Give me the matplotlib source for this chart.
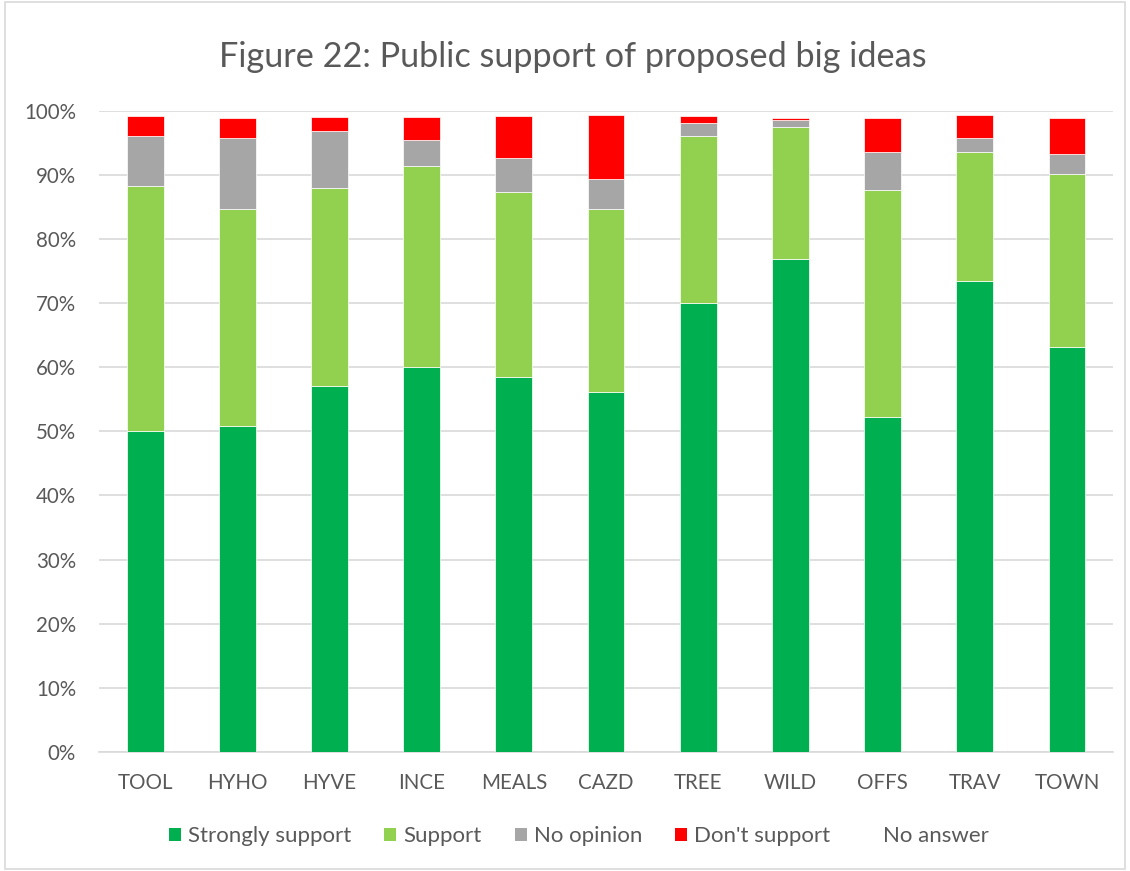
import numpy as np
import matplotlib
matplotlib.use("Agg")
from matplotlib import pyplot as plt
from matplotlib.patches import Patch, Rectangle
from matplotlib.ticker import PercentFormatter

plt.rcParams['font.family'] = ['Lato', 'DejaVu Sans']

ideas = ['TOOL', 'HYHO', 'HYVE', 'INCE', 'MEALS', 'CAZD', 'TREE', 'WILD', 'OFFS', 'TRAV', 'TOWN']

# share of responses per idea, in percent
strongly_support = [50.0, 50.8, 57.0, 60.0, 58.4, 56.2, 70.0, 76.8, 52.2, 73.5, 63.1]
support          = [38.3, 33.9, 31.0, 31.4, 28.9, 28.4, 26.1, 20.6, 35.4, 20.0, 27.0]
no_opinion       = [7.7, 11.1, 8.8, 4.1, 5.4, 4.7, 2.0, 1.1, 6.0, 2.2, 3.1]
dont_support     = [3.2, 3.1, 2.2, 3.5, 6.4, 10.0, 1.0, 0.4, 5.3, 3.6, 5.7]
no_answer        = [0.8, 1.1, 1.0, 1.0, 0.9, 0.7, 0.9, 1.1, 1.1, 0.7, 1.1]

series = [
    ('Strongly support', strongly_support, '#00B050'),
    ('Support', support, '#92D050'),
    ('No opinion', no_opinion, '#A6A6A6'),
    ("Don't support", dont_support, '#FF0000'),
    ('No answer', no_answer, 'none'),
]

txt = '#595959'

fig = plt.figure(figsize=(11.3, 8.71), dpi=100)
ax = fig.add_axes([0.0876, 0.1366, 0.8974, 0.7363])

x = np.arange(len(ideas))
bottom = np.zeros(len(ideas))
handles = []
for name, vals, col in series:
    vals = np.array(vals)
    ec = 'none' if col == 'none' else 'white'
    ax.bar(x, vals, 0.4, bottom=bottom, color=col, edgecolor=ec, linewidth=0.5, zorder=3)
    bottom += vals
    handles.append(Patch(facecolor=col, edgecolor='none', label=name))

ax.set_xlim(-0.5, len(ideas) - 0.5)
ax.set_ylim(0, 100)
ax.set_yticks(np.arange(0, 101, 10))
ax.yaxis.set_major_formatter(PercentFormatter(decimals=0))
ax.set_xticks(x)
ax.set_xticklabels(ideas)
ax.grid(axis='y', color='#D9D9D9', linewidth=1.2, zorder=0)
for s in ['top', 'right', 'left']:
    ax.spines[s].set_visible(False)
ax.spines['bottom'].set_color('#D9D9D9')
ax.spines['bottom'].set_linewidth(1.2)
ax.tick_params(axis='both', length=0, labelsize=14.8, colors=txt)
ax.tick_params(axis='x', pad=15)
ax.tick_params(axis='y', pad=16.5)

fig.text(0.507, 0.934, 'Figure 22: Public support of proposed big ideas',
         ha='center', va='center', fontsize=24.7, color=txt)

fig.legend(handles=handles, loc='center', bbox_to_anchor=(0.512, 0.04), ncol=5,
           frameon=False, fontsize=16, labelcolor=txt, handlelength=0.55,
           handleheight=0.55, handletextpad=0.3, columnspacing=1.5)

# thin border round the whole chart
fig.patches.append(Rectangle((0.004, 0.002), 0.992, 0.996, transform=fig.transFigure,
                             fill=False, edgecolor='#D9D9D9', linewidth=1.2))

fig.savefig('out.png', dpi=100)
